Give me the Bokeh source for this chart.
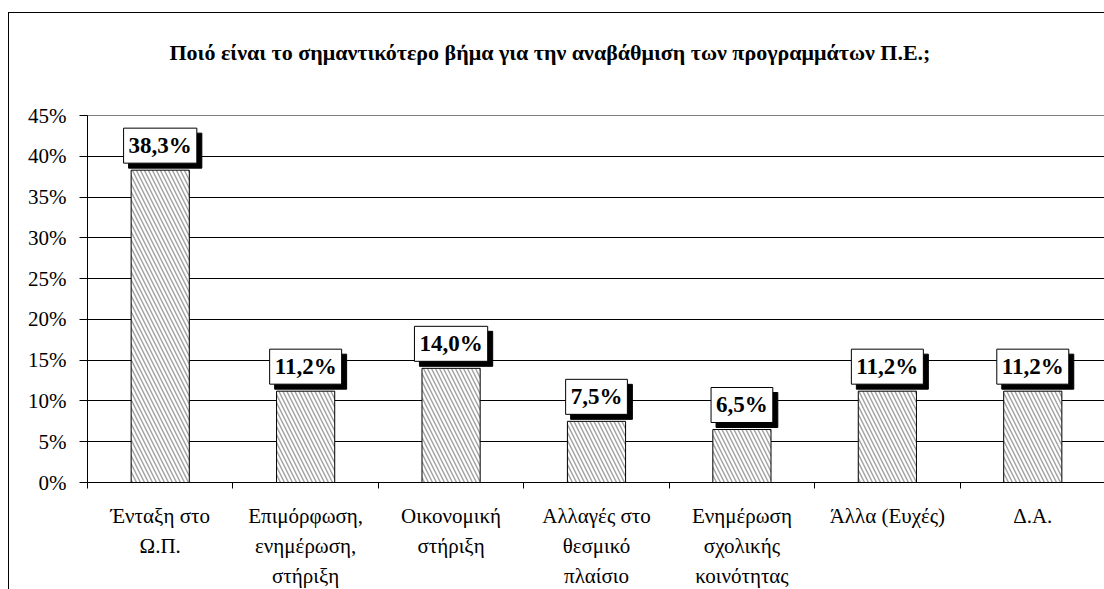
from bokeh.plotting import figure
from bokeh.models import (ColumnDataSource, Range1d, LinearAxis,
                          FixedTicker, PrintfTickFormatter)
from bokeh.core.properties import value
from bokeh.embed import file_html
from bokeh.resources import INLINE

categories = ["Ένταξη στο\nΩ.Π.", "Επιμόρφωση,\nενημέρωση,\nστήριξη", "Οικονομική\nστήριξη",
              "Αλλαγές στο\nθεσμικό\nπλαίσιο", "Ενημέρωση\nσχολικής\nκοινότητας",
              "Άλλα (Ευχές)", "Δ.Α."]
values = [38.3, 11.2, 14.0, 7.5, 6.5, 11.2, 11.2]
y_ticks = [0, 5, 10, 15, 20, 25, 30, 35, 40, 45]
title_text = "Ποιό είναι το σημαντικότερο βήμα για την αναβάθμιση των προγραμμάτων Π.Ε.;"

n = len(categories)
centers = [float(i) + 0.5 for i in range(n)]
labels = [f"{v:.1f}".replace(".", ",") + "%" for v in values]
src = ColumnDataSource(dict(x=centers, val=values, lab=labels))

FONT = "Liberation Serif"

p = figure(frame_width=1018, frame_height=367, x_range=Range1d(0, n),
           y_range=Range1d(0, 45), output_backend="svg", toolbar_location=None,
           x_axis_location=None, y_axis_location="left",
           min_border_left=78, min_border_right=0, min_border_top=102, min_border_bottom=10)
p.margin = (12, 0, 0, 8)
p.styles = {"border-left": "1px solid black", "border-top": "1px solid black"}
p.background_fill_color = "white"
p.border_fill_color = "white"
p.outline_line_color = "#808080"
p.outline_line_width = 1

# a blank second line keeps the title high above the plot area
p.title.text = title_text + "\n "
p.title.align = "left"
p.title.offset = 82
p.title.standoff = 37
p.title.text_font = FONT
p.title.text_font_size = "22px"
p.title.text_font_style = "bold"
p.title.text_color = "black"
p.title.text_line_height = 1.3

# y axis
ya = p.yaxis[0]
ya.ticker = FixedTicker(ticks=y_ticks)
ya.formatter = PrintfTickFormatter(format="%d%%")
ya.major_label_text_font = FONT
ya.major_label_text_font_size = "21px"
ya.major_label_text_color = "black"
ya.axis_line_color = "black"
ya.major_tick_line_color = "black"
ya.major_tick_out = 8
ya.major_tick_in = 0
ya.minor_tick_line_color = None
ya.major_label_standoff = 13

p.ygrid.ticker = FixedTicker(ticks=y_ticks[1:-1])
p.ygrid.grid_line_color = "black"
p.ygrid.grid_line_width = 1
p.xgrid.grid_line_color = None

# boundary tick axis (ticks between categories)
ta = LinearAxis(ticker=FixedTicker(ticks=list(range(n + 1))))
ta.major_label_text_font_size = "1px"
ta.major_label_text_alpha = 0
ta.major_label_standoff = 0
ta.major_tick_out = 6
ta.major_tick_in = 0
ta.minor_tick_line_color = None
ta.axis_line_color = "black"
ta.major_tick_line_color = "black"
p.add_layout(ta, "below")

# category labels axis
ca = LinearAxis(ticker=FixedTicker(ticks=centers))
ca.major_label_overrides = {c: lab for c, lab in zip(centers, categories)}
ca.axis_line_color = None
ca.major_tick_line_color = None
ca.minor_tick_line_color = None
ca.major_tick_out = 0
ca.major_label_text_font = FONT
ca.major_label_text_font_size = "21px"
ca.major_label_text_color = "black"
ca.major_label_text_line_height = 1.27
ca.major_label_standoff = 15
p.add_layout(ca, "below")

# bars: solid grey base, then white diagonal hatch with black outline
p.vbar(x="x", top="val", width=0.4, source=src, fill_color="#a0a0a0", line_color=None)
p.vbar(x="x", top="val", width=0.4, source=src, fill_alpha=0,
       line_color="black", line_width=1, hatch_pattern="\\", hatch_color="white",
       hatch_scale=8, hatch_weight=2.2)

# data label shadows and boxes
common = dict(x="x", y="val", text="lab", source=src, text_align="center",
              text_baseline="bottom", text_font=value(FONT), text_font_size="23px",
              text_font_style="bold", padding=5)
p.text(text_color="black", background_fill_color="black", border_line_color="black",
       x_offset=5, y_offset=-2, **common)
p.text(text_color="black", background_fill_color="white", border_line_color="black",
       border_line_width=1, x_offset=0, y_offset=-7, **common)

open("out.html", "w").write(file_html(p, INLINE))
